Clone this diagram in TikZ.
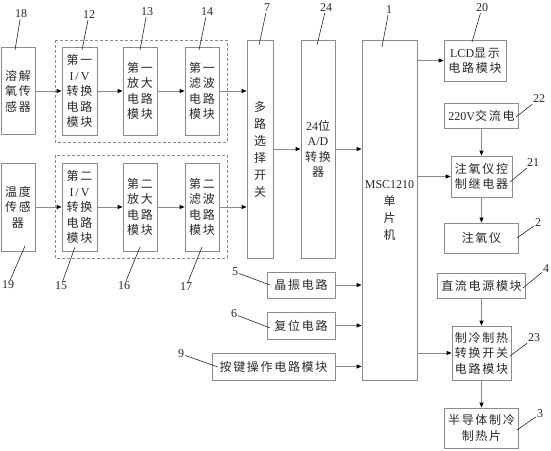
\documentclass[tikz,border=0pt]{standalone}
\usepackage{fontspec}
\setmainfont{Liberation Serif}
\newfontfamily\cjk[LetterSpace=14]{Noto Sans CJK SC}
\usetikzlibrary{arrows.meta}
\definecolor{linegray}{RGB}{140,140,140}
\definecolor{ink}{RGB}{40,40,40}
\newcommand\lat[1]{{\rmfamily #1}}
\tikzset{
  blk/.style={draw=linegray, line width=0.8pt, align=center, inner sep=0pt,
    text=ink, font=\cjk\fontsize{12}{15.5}\selectfont},
  sz/.style n args={2}{minimum width=#1pt, minimum height=#2pt},
  grp/.style={draw=linegray, line width=0.8pt, dash pattern=on 3pt off 2pt},
  sig/.style={draw=linegray, line width=0.8pt,
    -{Triangle[length=5pt,width=4pt,color=black]}},
  lead/.style={draw=ink, line width=0.6pt},
  num/.style={font=\fontsize{12}{12}\selectfont, text=ink, inner sep=1pt}
}
\begin{document}
\begin{tikzpicture}[x=1pt, y=-1pt]
  \useasboundingbox (0,0) rectangle (551,450);
  % acquisition channels
  \draw[grp] (55,40) rectangle (227,142);
  \draw[grp] (55,155) rectangle (227,258);
  \node[blk, sz={34}{87}] (s1) at (18,91) {溶解\\氧传\\感器};
  \node[blk, sz={35}{88}] (iv1) at (79.5,91) {第一\\\lat{I\,/\,V}\\转换\\电路\\模块};
  \node[blk, sz={34}{88}] (amp1) at (140,91) {第一\\放大\\电路\\模块};
  \node[blk, sz={34}{88}] (flt1) at (202,91) {第一\\滤波\\电路\\模块};
  \node[blk, sz={34}{88}] (s2) at (18,207) {温度\\传感\\器};
  \node[blk, sz={35}{88}] (iv2) at (79.5,207) {第二\\\lat{I\,/\,V}\\转换\\电路\\模块};
  \node[blk, sz={34}{88}] (amp2) at (140,207) {第二\\放大\\电路\\模块};
  \node[blk, sz={34}{88}] (flt2) at (202,207) {第二\\滤波\\电路\\模块};
  % switch, converter, mcu
  \node[blk, sz={26}{218}, font=\cjk\fontsize{12}{17}\selectfont] (mux) at (260,149)
    {多\\路\\选\\择\\开\\关};
  \node[blk, sz={34}{218}] (ad) at (318,149) {\lat{24}位\\\lat{A/D}\\转换\\器};
  \node[blk, sz={55}{340}, font=\cjk\fontsize{12}{17}\selectfont] (msc) at (389.5,210)
    {\lat{MSC1210}\\单\\片\\机};
  \node[blk, sz={68}{26}] (xtal) at (301,285) {晶振电路};
  \node[blk, sz={68}{27}] (rst) at (301,325.5) {复位电路};
  \node[blk, sz={123}{27}] (key) at (273.5,366.5) {按键操作电路模块};
  % outputs
  \node[blk, sz={62}{41}] (lcd) at (475,60.5) {\lat{LCD}显示\\电路模块};
  \node[blk, sz={74}{25}] (ac) at (481.5,115.5) {\lat{220V}交流电};
  \node[blk, sz={61}{41}] (relay) at (481.5,176.5) {注氧仪控\\制继电器};
  \node[blk, sz={74}{30}] (oxy) at (481.5,238) {注氧仪};
  \node[blk, sz={88}{25}] (dc) at (481.5,285.5) {直流电源模块};
  \node[blk, sz={59}{54}] (sw) at (481.5,353) {制冷制热\\转换开关\\电路模块};
  \node[blk, sz={74}{40}] (pel) at (481.5,428) {半导体制冷\\制热片};
  \path[sig]
    (s1) edge (iv1)
    (iv1) edge (amp1)
    (amp1) edge (flt1)
    (flt1) edge (flt1 -| mux.west)
    (s2) edge (iv2)
    (iv2) edge (amp2)
    (amp2) edge (flt2)
    (flt2) edge (flt2 -| mux.west)
    (mux) edge (ad)
    (ad) edge (ad -| msc.west)
    (xtal) edge (xtal -| msc.west)
    (rst) edge (rst -| msc.west)
    (key) edge (key -| msc.west);
  \draw[sig] (msc.east |- lcd.west) -- (lcd.west);
  \draw[sig] (msc.east |- relay.west) -- (relay.west);
  \draw[sig] (msc.east |- sw.west) -- (sw.west);
  \path[sig]
    (ac) edge (relay)
    (relay) edge (oxy)
    (dc) edge (sw)
    (sw) edge (pel);
  % reference numerals
  \foreach \n/\x/\y/\u/\v in {18/21/14/15/50, 12/89/15/82/50, 13/147/12/140/50,
      14/207/12/199/50, 7/267/8/259/45, 24/326/8/317/45, 1/389/10/382/47,
      20/482/8/472/42, 22/539/99/516/117, 21/533/163/510/182, 2/538/223/517/238,
      19/8/285/25/246, 15/61/286/75/247, 16/124/286/140/247, 17/186/287/202/247,
      5/235/272/270/285, 6/234/314/270/328, 9/181/354/218/367,
      4/546/269/523/288, 23/534/338/510/356, 3/540/414/517/430}
  {
    \node[num] (l\n) at (\x,\y) {\n};
    \coordinate (p\n) at (\u,\v);
    \draw[lead] (l\n) -- (p\n);
  }
\end{tikzpicture}
\end{document}
